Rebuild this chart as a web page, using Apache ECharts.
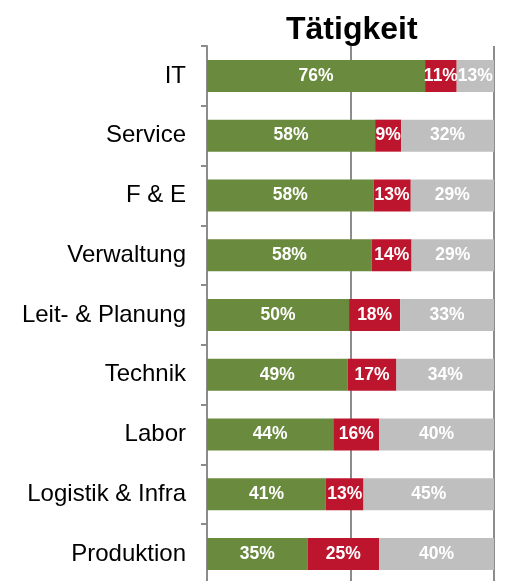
<!DOCTYPE html>
<html lang="de">
<head>
    <meta charset="UTF-8"/>
    <title>Tätigkeit</title>
    <script src="https://cdn.jsdelivr.net/npm/echarts@6/dist/echarts.min.js"></script>
    <style>
        html, body { margin: 0; padding: 0; overflow: hidden; background: #fff; }
    </style>
</head>
<body>
<!-- slightly taller than the window: the bottom of the axis is cut off in the original -->
<div id="main" style="width: 517px; height: 600px;"></div>
<script type="text/javascript">
    var categories = ['IT', 'Service', 'F & E', 'Verwaltung', 'Leit- & Planung', 'Technik', 'Labor', 'Logistik & Infra', 'Produktion'];
    var greenValues = [76, 58, 58, 58, 50, 49, 44, 41, 35];
    var redValues = [11, 9, 13, 14, 18, 17, 16, 13, 25];
    var greyValues = [13, 32, 29, 29, 33, 34, 40, 45, 40];

    // rounded shares do not always add up to 100, scale each row to 100%
    function share(values) {
        return values.map(function (v, i) {
            var sum = greenValues[i] + redValues[i] + greyValues[i];
            return v / sum * 100;
        });
    }

    function makeSeries(name, values, color) {
        return {
            name: name,
            type: 'bar',
            stack: 'total',
            barWidth: 32,
            data: share(values),
            itemStyle: { color: color },
            label: {
                show: true,
                position: 'inside',
                color: '#fff',
                fontFamily: 'Liberation Sans, Arial, sans-serif',
                fontWeight: 'bold',
                fontSize: 17.5,
                formatter: function (p) { return values[p.dataIndex] + '%'; }
            }
        };
    }

    var myChart = echarts.init(document.getElementById('main'));

    option = {
        animation: false,
        title: {
            text: 'Tätigkeit',
            left: 281,
            top: 9,
            textStyle: {
                fontFamily: 'Liberation Sans, Arial, sans-serif',
                fontWeight: 'bold',
                fontSize: 32,
                color: '#000'
            }
        },
        grid: { left: 207, right: 23, top: 46, bottom: 16 },
        xAxis: {
            type: 'value',
            min: 0,
            max: 100,
            interval: 50,
            axisLabel: { show: false },
            axisLine: { show: false },
            axisTick: { show: false },
            splitLine: { show: true, lineStyle: { color: '#8c8c8c', width: 2 } }
        },
        yAxis: {
            type: 'category',
            inverse: true,
            data: categories,
            axisLine: { show: true, lineStyle: { color: '#8c8c8c', width: 2 } },
            axisTick: { show: true, length: 6, lineStyle: { color: '#8c8c8c', width: 2 } },
            axisLabel: {
                margin: 21,
                color: '#000',
                fontFamily: 'Liberation Sans, Arial, sans-serif',
                fontSize: 24
            }
        },
        series: [
            makeSeries('grün', greenValues, '#6a8a3e'),
            makeSeries('rot', redValues, '#bd152d'),
            makeSeries('grau', greyValues, '#bfbfbf')
        ]
    };

    myChart.setOption(option);
</script>
</body>
</html>
